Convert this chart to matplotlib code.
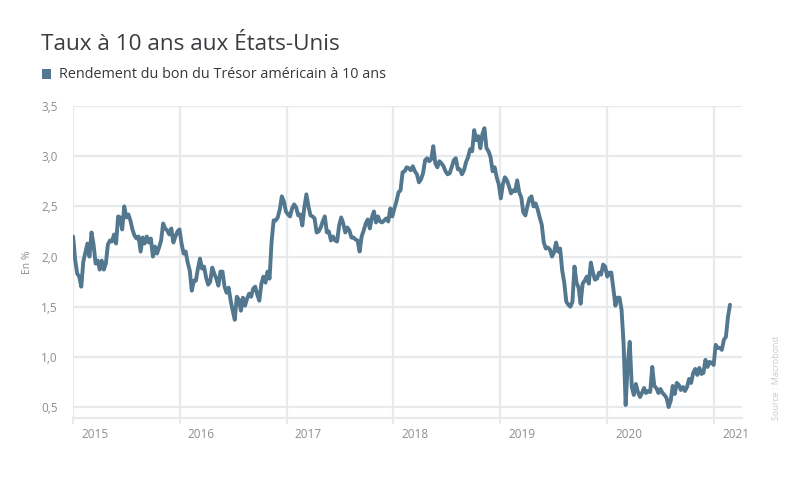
import pandas as pd
import matplotlib
matplotlib.use('Agg')
import matplotlib.pyplot as plt
import matplotlib.dates as mdates
import matplotlib.transforms as mtransforms
from matplotlib.patches import Rectangle
from matplotlib.ticker import FuncFormatter, MultipleLocator

# weekly (Friday) 10y yields, one list per year
y2015 = [2.20, 1.97, 1.83, 1.80, 1.70, 1.95, 2.04, 2.13, 2.00, 2.24, 2.12, 1.93, 1.96,
         1.87, 1.96, 1.87, 1.93, 2.12, 2.16, 2.15, 2.22, 2.13, 2.40, 2.39, 2.27, 2.50,
         2.39, 2.42, 2.36, 2.27, 2.21, 2.18, 2.20, 2.05, 2.19, 2.13, 2.20, 2.14, 2.18,
         2.00, 2.10, 2.03, 2.09, 2.16, 2.33, 2.28, 2.26, 2.22, 2.28, 2.14, 2.20, 2.25]
y2016 = [2.27, 2.13, 2.03, 2.05, 1.94, 1.86, 1.66, 1.76, 1.76, 1.88, 1.98, 1.88, 1.90,
         1.79, 1.72, 1.75, 1.89, 1.83, 1.78, 1.71, 1.85, 1.85, 1.70, 1.64, 1.69, 1.56,
         1.46, 1.37, 1.60, 1.57, 1.46, 1.59, 1.51, 1.58, 1.63, 1.60, 1.68, 1.70, 1.62,
         1.56, 1.73, 1.80, 1.74, 1.85, 1.78, 2.15, 2.36, 2.36, 2.39, 2.47, 2.60, 2.55, 2.45]
y2017 = [2.42, 2.40, 2.48, 2.52, 2.49, 2.41, 2.42, 2.31, 2.49, 2.62, 2.50, 2.41, 2.40,
         2.38, 2.24, 2.25, 2.29, 2.35, 2.40, 2.24, 2.25, 2.16, 2.20, 2.16, 2.15, 2.31,
         2.39, 2.33, 2.24, 2.29, 2.26, 2.19, 2.19, 2.17, 2.16, 2.05, 2.20, 2.26, 2.33,
         2.37, 2.28, 2.39, 2.45, 2.34, 2.40, 2.35, 2.34, 2.36, 2.38, 2.35, 2.48, 2.40]
y2018 = [2.48, 2.55, 2.64, 2.66, 2.84, 2.85, 2.89, 2.88, 2.86, 2.90, 2.85, 2.82, 2.74,
         2.77, 2.83, 2.96, 2.98, 2.95, 2.97, 3.10, 2.93, 2.89, 2.95, 2.93, 2.90, 2.85,
         2.82, 2.83, 2.89, 2.96, 2.98, 2.87, 2.87, 2.82, 2.86, 2.94, 2.99, 3.07, 3.05,
         3.26, 3.16, 3.20, 3.08, 3.22, 3.28, 3.08, 3.05, 2.99, 2.85, 2.89, 2.79, 2.72]
y2019 = [2.58, 2.72, 2.79, 2.76, 2.70, 2.63, 2.66, 2.65, 2.76, 2.64, 2.59, 2.44, 2.41,
         2.50, 2.58, 2.60, 2.50, 2.53, 2.47, 2.39, 2.32, 2.14, 2.08, 2.09, 2.07, 2.00,
         2.04, 2.14, 2.05, 2.08, 1.86, 1.74, 1.55, 1.52, 1.50, 1.55, 1.90, 1.74, 1.69,
         1.53, 1.73, 1.76, 1.80, 1.73, 1.94, 1.84, 1.77, 1.78, 1.84, 1.82, 1.92, 1.90]
y2020 = [1.80, 1.84, 1.84, 1.68, 1.51, 1.59, 1.59, 1.47, 1.13, 0.52, 0.92, 1.15, 0.70,
         0.62, 0.73, 0.65, 0.60, 0.64, 0.69, 0.64, 0.66, 0.65, 0.90, 0.71, 0.69, 0.64,
         0.68, 0.64, 0.62, 0.59, 0.50, 0.56, 0.71, 0.63, 0.74, 0.72, 0.67, 0.70, 0.66,
         0.70, 0.78, 0.74, 0.84, 0.88, 0.82, 0.89, 0.83, 0.84, 0.97, 0.90, 0.95, 0.94]
y2021 = [0.92, 1.12, 1.09, 1.09, 1.07, 1.17, 1.20, 1.40, 1.52]

first_fridays = ['2015-01-02', '2016-01-01', '2017-01-06', '2018-01-05',
                 '2019-01-04', '2020-01-03', '2021-01-01']
yearly = [y2015, y2016, y2017, y2018, y2019, y2020, y2021]

parts = []
for start, vals in zip(first_fridays, yearly):
    idx = pd.date_range(start, periods=len(vals), freq='W-FRI')
    parts.append(pd.Series(vals, index=idx))
rate = pd.concat(parts)

title = 'Taux à 10 ans aux États-Unis'
series_name = 'Rendement du bon du Trésor américain à 10 ans'
line_col = '#52778f'
grid_col = '#e7eaec'

plt.rcParams['font.family'] = ['Open Sans', 'DejaVu Sans']

fig = plt.figure(figsize=(8, 4.8), dpi=100)
ax = fig.add_axes([0.091, 0.129, 0.8365, 0.650])

ax.plot(rate.index, rate.values, color=line_col, lw=2.8,
        solid_joinstyle='round', solid_capstyle='round')

ax.set_xlim(pd.Timestamp('2015-01-01'), pd.Timestamp('2021-04-08'))
ax.set_ylim(0.39, 3.5)
ax.yaxis.set_major_locator(MultipleLocator(0.5))
ax.yaxis.set_major_formatter(FuncFormatter(lambda v, p: ('%.1f' % v).replace('.', ',')))
ax.xaxis.set_major_locator(mdates.YearLocator())
ax.xaxis.set_major_formatter(mdates.DateFormatter('%Y'))

ax.grid(True, color=grid_col, lw=1.6)
ax.set_axisbelow(True)
for s in ['top', 'right', 'left']:
    ax.spines[s].set_visible(False)
ax.spines['bottom'].set_color(grid_col)
ax.spines['bottom'].set_linewidth(1.6)

ax.tick_params(axis='y', length=0, pad=11, labelsize=8.5, labelcolor='#8a8f93')
ax.tick_params(axis='x', length=4, width=1.4, color=grid_col, pad=3,
               labelsize=8.5, labelcolor='#8a8f93')
offset = mtransforms.ScaledTranslation(6 / 72, 0, fig.dpi_scale_trans)
for lab in ax.get_xticklabels():
    lab.set_horizontalalignment('left')
    lab.set_transform(lab.get_transform() + offset)

ax.set_ylabel('En %', fontsize=7.5, color='#8a8f93', labelpad=6)

fig.text(0.051, 1 - 44 / 480, title, fontsize=16.2, color='#3a3d40', va='center')

# legend: square + label, placed by hand like the original
fig.add_artist(Rectangle((41.5 / 800, 1 - 78.5 / 480), 9 / 800, 9 / 480,
                         transform=fig.transFigure, color=line_col, lw=0))
fig.text(59 / 800, 1 - 74 / 480, series_name, fontsize=10.4, fontweight='medium',
         color='#35393c', va='center')

fig.text(0.971, 1 - 420 / 480, 'Source : Macrobond', rotation=90,
         va='bottom', ha='center', fontsize=6.5, color='#c8ccce')

plt.savefig('out.png', dpi=100)
